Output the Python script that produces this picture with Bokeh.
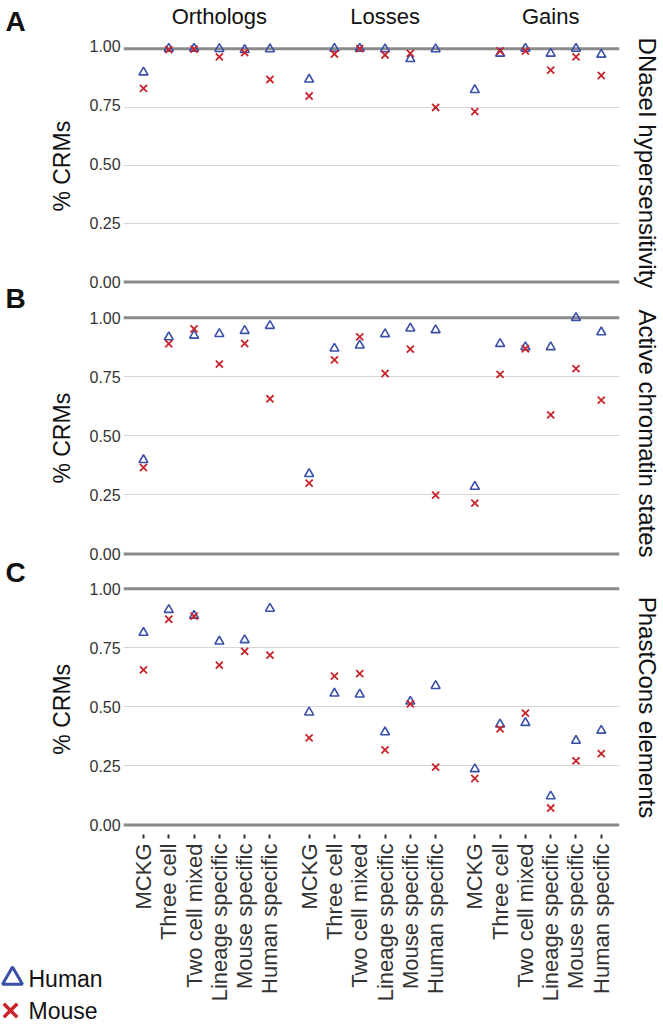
import math
from bokeh.plotting import figure
from bokeh.models import (Range1d, FixedTicker, NumeralTickFormatter, Span, Grid, LinearAxis)
from bokeh.layouts import column, row
from bokeh.core.properties import value
from bokeh.embed import file_html
from bokeh.resources import INLINE

# ---------------- data ----------------
facets = ["Orthologs", "Losses", "Gains"]
categories = ["MCKG", "Three cell", "Two cell mixed", "Lineage specific",
              "Mouse specific", "Human specific"]
panel_names = ["DNaseI hypersensitivity", "Active chromatin states", "PhastCons elements"]
panel_letters = ["A", "B", "C"]
y_ticks = [0.0, 0.25, 0.5, 0.75, 1.0]
series_names = ["Human", "Mouse"]

# each list: Orthologs (6), Losses (6), Gains (6)
dnase_human = [0.899, 1.000, 1.000, 0.999, 0.995, 0.998,
               0.868, 1.000, 1.000, 0.998, 0.956, 0.998,
               0.823, 0.979, 1.000, 0.979, 1.000, 0.975]
dnase_mouse = [0.830, 0.996, 0.998, 0.965, 0.983, 0.868,
               0.797, 0.977, 1.000, 0.973, 0.980, 0.748,
               0.730, 0.990, 0.990, 0.908, 0.965, 0.885]
chrom_human = [0.398, 0.918, 0.925, 0.932, 0.945, 0.966,
               0.339, 0.870, 0.883, 0.931, 0.955, 0.948,
               0.285, 0.890, 0.876, 0.876, 1.000, 0.939]
chrom_mouse = [0.366, 0.890, 0.953, 0.804, 0.891, 0.657,
               0.300, 0.822, 0.919, 0.764, 0.867, 0.249,
               0.215, 0.760, 0.869, 0.589, 0.785, 0.651]
phast_human = [0.814, 0.911, 0.886, 0.777, 0.783, 0.916,
               0.477, 0.557, 0.553, 0.393, 0.523, 0.589,
               0.237, 0.426, 0.433, 0.122, 0.357, 0.400]
phast_mouse = [0.657, 0.871, 0.884, 0.677, 0.735, 0.719,
               0.369, 0.630, 0.641, 0.318, 0.513, 0.245,
               0.197, 0.407, 0.474, 0.072, 0.272, 0.302]

# ---------------- styling / layout ----------------
BLUE = "#3A4FA8"
RED = "#C8242B"
FONT = "Liberation Sans"
TXT = "#111111"
TICK_TXT = "#333333"
LETTER_W = 40       # column holding the panel letters
LW = 83             # y title + y tick labels strip
LAX = 43            # room for y tick labels inside that strip
FRAME_W = 496
RIGHT = 44
MW = FRAME_W + RIGHT
X_START, X_END = -15.8, 376.4
FACET_STEP, CAT_STEP = 131, 20
Y_TOP = 1.035

xs = [FACET_STEP * f + CAT_STEP * i for f in range(len(facets)) for i in range(len(categories))]
x_labels = {x: categories[k % len(categories)] for k, x in enumerate(xs)}
facet_centers = [FACET_STEP * f + CAT_STEP * (len(categories) - 1) // 2 + CAT_STEP // 2
                 for f in range(len(facets))]

specs = [
    dict(human=dnase_human, mouse=dnase_mouse, height=291, top=37, frame=248, y0=-0.015,
         ldy=24.3, left_h=291),
    dict(human=chrom_human, mouse=chrom_mouse, height=272, top=18, frame=248, y0=-0.015,
         ldy=19.3, left_h=272),
    dict(human=phast_human, mouse=phast_mouse, height=467, top=17, frame=254, y0=-0.04,
         ldy=15.8, left_h=337),
]
LEGEND_H = 130
UPPER_H = sum(s["left_h"] for s in specs)


def clean(p):
    p.outline_line_color = None
    p.background_fill_color = "white"
    p.border_fill_color = "white"
    for g in p.grid:
        g.visible = False


main_figs, left_figs, letter_pos = [], [], []
canvas_top = 0
for k, s in enumerate(specs):
    last = k == len(specs) - 1
    h, top, fh, y0 = s["height"], s["top"], s["frame"], s["y0"]
    PY = fh / (Y_TOP - y0)
    one_line = canvas_top + top + (Y_TOP - 1.0) * PY      # page y of the 1.00 line
    letter_pos.append(one_line - s["ldy"])
    canvas_top += h

    # ---- main panel ----
    p = figure(width=MW, height=h, output_backend="svg", toolbar_location=None,
               x_range=Range1d(X_START, X_END), y_range=Range1d(y0, Y_TOP),
               x_axis_location="below" if last else None, y_axis_location=None,
               min_border_left=0, min_border_right=RIGHT,
               min_border_top=top, min_border_bottom=h - top - fh)
    clean(p)
    p.add_layout(Grid(dimension=1, ticker=FixedTicker(ticks=[0.25, 0.5, 0.75]),
                      grid_line_color="#d6d6d6", grid_line_width=1.2))

    if last:
        xa = p.xaxis[0]
        xa.ticker = FixedTicker(ticks=xs)
        xa.major_label_overrides = x_labels
        xa.major_label_orientation = math.pi / 2
        xa.axis_line_color = None
        xa.minor_tick_line_color = None
        xa.major_tick_line_color = "#333333"
        xa.major_tick_line_width = 2
        xa.major_tick_in = 0
        xa.major_tick_out = 4
        xa.major_label_standoff = 5
        xa.major_label_text_font = FONT
        xa.major_label_text_font_size = "22px"
        xa.major_label_text_color = TICK_TXT

    ra = LinearAxis(ticker=FixedTicker(ticks=[]), axis_label=panel_names[k],
                    axis_label_standoff=14, axis_label_text_font=FONT,
                    axis_label_text_font_size="24px", axis_label_text_font_style="normal",
                    axis_label_text_color=TXT, axis_line_color=None,
                    major_tick_line_color=None, minor_tick_line_color=None)
    p.add_layout(ra, "right")

    if k == 0:
        ta = LinearAxis(ticker=FixedTicker(ticks=facet_centers),
                        major_label_overrides={c: n for c, n in zip(facet_centers, facets)},
                        major_label_standoff=12, major_tick_in=0, major_tick_out=0,
                        major_tick_line_color=None, minor_tick_line_color=None,
                        axis_line_color=None, major_label_text_font=FONT,
                        major_label_text_font_size="22px", major_label_text_color=TXT)
        p.add_layout(ta, "above")

    for loc in (0.0, 1.0):
        p.add_layout(Span(location=loc, dimension="width", line_color="#8a8a8a",
                          line_width=3, level="underlay"))

    p.scatter(xs, s["human"], marker="triangle", size=9, fill_color=None,
              line_color=BLUE, line_width=1.6)
    p.scatter(xs, s["mouse"], marker="x", size=10, line_color=RED, line_width=1.8)
    main_figs.append(p)

    # ---- left strip: y title + y tick labels (same y mapping as the panel) ----
    lh = s["left_h"]
    l_top = Y_TOP + top / PY
    l_bot = y0 - (lh - top - fh) / PY
    lf = figure(width=LW, height=lh, output_backend="svg", toolbar_location=None,
                x_range=Range1d(0, LW - LAX), y_range=Range1d(l_bot, l_top),
                x_axis_location=None, y_axis_location="right",
                min_border_left=0, min_border_right=LAX, min_border_top=0, min_border_bottom=0)
    clean(lf)
    ya = lf.yaxis[0]
    ya.ticker = FixedTicker(ticks=y_ticks)
    ya.formatter = NumeralTickFormatter(format="0.00")
    ya.axis_line_color = None
    ya.major_tick_line_color = None
    ya.minor_tick_line_color = None
    ya.major_label_standoff = 6
    ya.major_label_text_font = FONT
    ya.major_label_text_font_size = "16px"
    ya.major_label_text_color = TICK_TXT
    lf.text(x=[23], y=[0.49], text=["% CRMs"], angle=math.pi / 2, text_font=value(FONT),
            text_font_size="23px", text_baseline="middle", text_align="center",
            text_color=TXT)
    left_figs.append(lf)

# ---- panel letters: one tall canvas so no letter straddles a boundary ----
lt = figure(width=LETTER_W, height=UPPER_H, output_backend="svg", toolbar_location=None,
            x_range=Range1d(0, LETTER_W), y_range=Range1d(UPPER_H, 0),
            x_axis_location=None, y_axis_location=None,
            min_border_left=0, min_border_right=0, min_border_top=0, min_border_bottom=0)
clean(lt)
lt.text(x=[5] * len(panel_letters), y=letter_pos, text=panel_letters, text_font=value(FONT),
        text_font_size="28px", text_font_style="bold", text_baseline="middle",
        text_align="left", text_color=TXT)

# ---- legend strip (bottom-left): keys drawn in pixel space of this small canvas ----
LEG_W = LETTER_W + LW
lg = figure(width=LEG_W, height=LEGEND_H, output_backend="svg", toolbar_location=None,
            x_range=Range1d(0, LEG_W), y_range=Range1d(LEGEND_H, 0),
            x_axis_location=None, y_axis_location=None,
            min_border_left=0, min_border_right=0, min_border_top=0, min_border_bottom=0)
clean(lg)
key_x = [12, 10]
key_y = [78, 110]
lg.scatter([key_x[0]], [key_y[0]], marker="triangle", size=20, fill_color=None,
           line_color=BLUE, line_width=3)
lg.scatter([key_x[1]], [key_y[1]], marker="x", size=19, line_color=RED, line_width=3.5)
lg.text(x=[28, 28], y=key_y, text=series_names, text_font=value(FONT),
        text_font_size="23px", text_baseline="middle", text_align="left", text_color=TXT)

left_block = column(row(lt, column(*left_figs, spacing=0), spacing=0), row(lg), spacing=0)
layout = row(left_block, column(*main_figs, spacing=0), spacing=0)
open("out.html", "w").write(file_html(layout, INLINE))
